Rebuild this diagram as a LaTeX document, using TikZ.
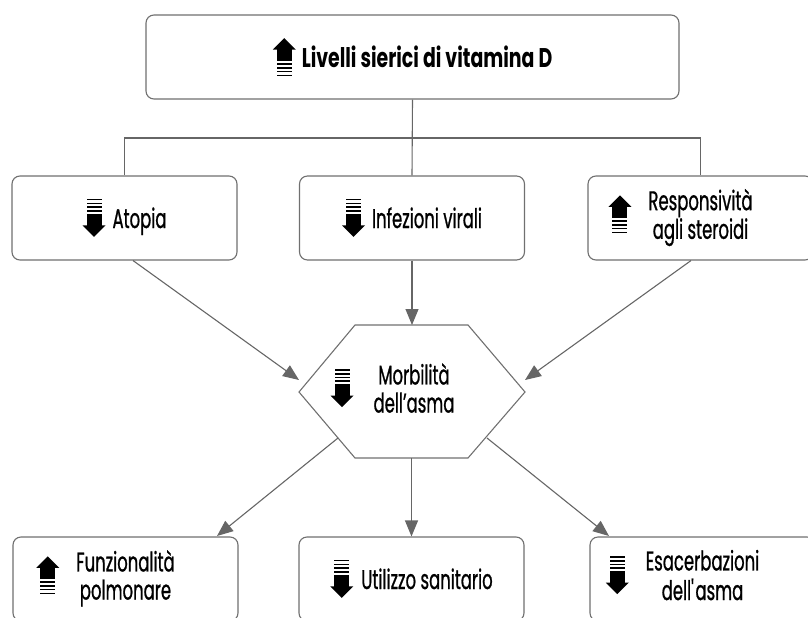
\documentclass[tikz,border=0pt]{standalone}
\usepackage{fontspec}
\setmainfont{Poppins}[FakeStretch=0.61, FakeBold=0.8,
  BoldFeatures={FakeStretch=0.7, FakeBold=0}]
\usetikzlibrary{arrows.meta,calc}

\definecolor{linegray}{HTML}{666666}
\definecolor{boxgray}{HTML}{707070}

% striped trend arrow: #1 = 1 (up) or -1 (down)
\newcommand{\trend}[1]{\tikz[x=1pt,y=#1pt,sharp corners,line width=0pt,
    baseline={([yshift=-10pt]current bounding box.center)}]{%
  \fill[black] (0,26.5) -- (23,26.5) -- (11.5,38) -- cycle;
  \fill[black] (4,15) rectangle (19,26.7);
  \fill[black] (4,11.3) rectangle (19,13.3);
  \fill[black] (4,7.5) rectangle (19,9.3);
  \fill[black] (4,4) rectangle (19,5.5);
  \fill[black] (4,0.3) rectangle (19,1.6);}}

\tikzset{
  box/.style={draw=boxgray, line width=1.1pt, rounded corners=8pt, fill=white,
    minimum width=225pt, minimum height=84pt, inner sep=0pt, align=center,
    font=\fontsize{27}{27}\selectfont},
  link/.style={draw=linegray, line width=1.1pt},
  arr/.style={link, -{Triangle[length=16pt,width=13pt]}}
}

\begin{document}
\begin{tikzpicture}[x=1pt,y=-1pt]
\useasboundingbox (0,0) rectangle (808,618);
\clip (0,0) rectangle (808,618);

\node[box, minimum width=533pt, font=\fontsize{27}{27}\selectfont\bfseries] (vitD) at (412.5,57)
  {\trend{1}\hspace{6pt}Livelli sierici di vitamina D};

\node[box] (atopia) at (124.5,218) {\trend{-1}\hspace{7pt}Atopia};
\node[box] (infez) at (412,218) {\trend{-1}\hspace{7pt}Infezioni virali};
\node[box] (steroid) at (700.5,218)
  {\llap{\trend{1}\hspace{17pt}}\begin{tabular}{@{}c@{}}Responsività\\agli steroidi\end{tabular}};

% hexagon
\coordinate (hw) at (299,392);
\coordinate (hnw) at (355,325);
\coordinate (hne) at (468,325);
\coordinate (he) at (525,392);
\coordinate (hse) at (468,458);
\coordinate (hsw) at (355,458);
\draw[draw=boxgray, line width=1.1pt] (hw) -- (hnw) -- (hne) -- (he) -- (hse) -- (hsw) -- cycle;
\node[font=\fontsize{27}{27}\selectfont, inner sep=0pt] (morb) at (414,392)
  {\llap{\trend{-1}\hspace{20pt}}\begin{tabular}{@{}c@{}}Morbilità\\dell’asma\end{tabular}};

\node[box] (funz) at (125.5,579)
  {\llap{\trend{1}\hspace{17pt}}\begin{tabular}{@{}c@{}}Funzionalità\\polmonare\end{tabular}};
\node[box] (util) at (411.5,579) {\trend{-1}\hspace{8pt}Utilizzo sanitario};
\node[box] (esac) at (702.5,579)
  {\llap{\trend{-1}\hspace{17pt}}\begin{tabular}{@{}c@{}}Esacerbazioni\\dell\textquotesingle asma\end{tabular}};

% tree from the top box
\coordinate (bus) at (vitD.south |- 0,138);
\draw[link] (vitD.south) -- (infez.north);
\draw[link] (bus) -| (atopia.north);
\draw[link] (bus) -| (steroid.north);

% arrows into the hexagon
\coordinate (inL) at ($(hw)+(0,-12)$);
\coordinate (inR) at ($(he)+(0,-12)$);
\draw[arr] ([xshift=8.5pt]atopia.south) -- (inL);
\draw[arr] (infez.south) -- (hnw -| infez.south);
\draw[arr] ([xshift=-9.5pt]steroid.south) -- (inR);

% arrows out of the hexagon
\coordinate (outL) at (338,438);
\coordinate (outR) at (487,438);
\coordinate (endL) at (217,536);
\coordinate (endR) at (609,536);
\draw[arr] (outL) -- (endL);
\draw[arr] (hsw -| util.north) -- (util.north);
\draw[arr] (outR) -- (endR);
\end{tikzpicture}
\end{document}
